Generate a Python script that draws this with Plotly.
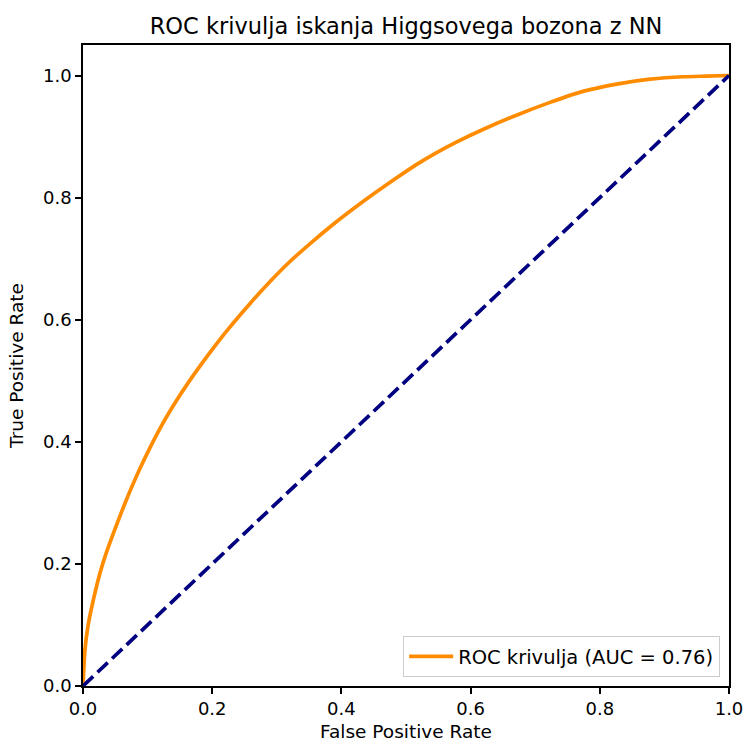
import plotly.graph_objects as go

# ROC curve values
fpr = [0.0, 0.003, 0.008, 0.016, 0.026, 0.036, 0.047, 0.060, 0.073, 0.088, 0.104,
       0.124, 0.145, 0.163, 0.181, 0.202, 0.222, 0.259, 0.290, 0.320, 0.353,
       0.387, 0.420, 0.455, 0.485, 0.516, 0.546, 0.578, 0.620, 0.671, 0.723,
       0.774, 0.826, 0.878, 0.929, 0.965, 1.0]
tpr = [0.0, 0.059, 0.100, 0.141, 0.184, 0.218, 0.250, 0.286, 0.320, 0.356, 0.391,
       0.431, 0.468, 0.497, 0.524, 0.554, 0.581, 0.627, 0.663, 0.695, 0.726,
       0.756, 0.783, 0.810, 0.832, 0.854, 0.873, 0.891, 0.912, 0.935, 0.956,
       0.974, 0.986, 0.994, 0.998, 0.999, 1.0]
diag_x = [0.0, 1.0]
diag_y = [0.0, 1.0]
auc_value = 0.76

tick_vals = [0.0, 0.2, 0.4, 0.6, 0.8, 1.0]
tick_text = ["0.0", "0.2", "0.4", "0.6", "0.8", "1.0"]

FONT = "DejaVu Sans"

fig = go.Figure()
fig.add_trace(go.Scatter(
    x=fpr, y=tpr, mode="lines",
    line=dict(color="#ff8c00", width=3.7, shape="spline", smoothing=0.6),
    name=f"ROC krivulja (AUC = {auc_value:.2f})",
))
fig.add_trace(go.Scatter(
    x=diag_x, y=diag_y, mode="lines",
    line=dict(color="#000080", width=3.7, dash="14px,6px"),
    showlegend=False,
))

axis_common = dict(
    showline=True, linecolor="black", linewidth=1.5, mirror=True,
    ticks="outside", ticklen=6, tickwidth=1.5, tickcolor="black",
    showgrid=False, zeroline=False, automargin=False,
    tickfont=dict(family=FONT, size=18, color="black"),
    tickvals=tick_vals, ticktext=tick_text,
)

fig.update_layout(
    width=745, height=742,
    margin=dict(l=83, r=16, t=45, b=56),
    paper_bgcolor="white", plot_bgcolor="white",
    font=dict(family=FONT, color="black"),
    title=dict(
        text="ROC krivulja iskanja Higgsovega bozona z NN",
        font=dict(family=FONT, size=22.5, color="black"),
        x=(83 + 729) / 2 / 745, xanchor="center",
        y=1 - 26 / 742, yanchor="middle", yref="container",
    ),
    xaxis=dict(range=[0, 1],
               title=dict(text="False Positive Rate", font=dict(family=FONT, size=18.5)),
               **axis_common),
    yaxis=dict(range=[0, 1.05],
               title=dict(text="True Positive Rate", font=dict(family=FONT, size=18.5)),
               **axis_common),
    legend=dict(
        x=0.986, y=0.014, xanchor="right", yanchor="bottom",
        bgcolor="rgba(255,255,255,0.8)", bordercolor="#cccccc", borderwidth=1.2,
        font=dict(family=FONT, size=19.5, color="black"),
        itemwidth=44,
    ),
    showlegend=True,
)

fig.write_html("out.html")
